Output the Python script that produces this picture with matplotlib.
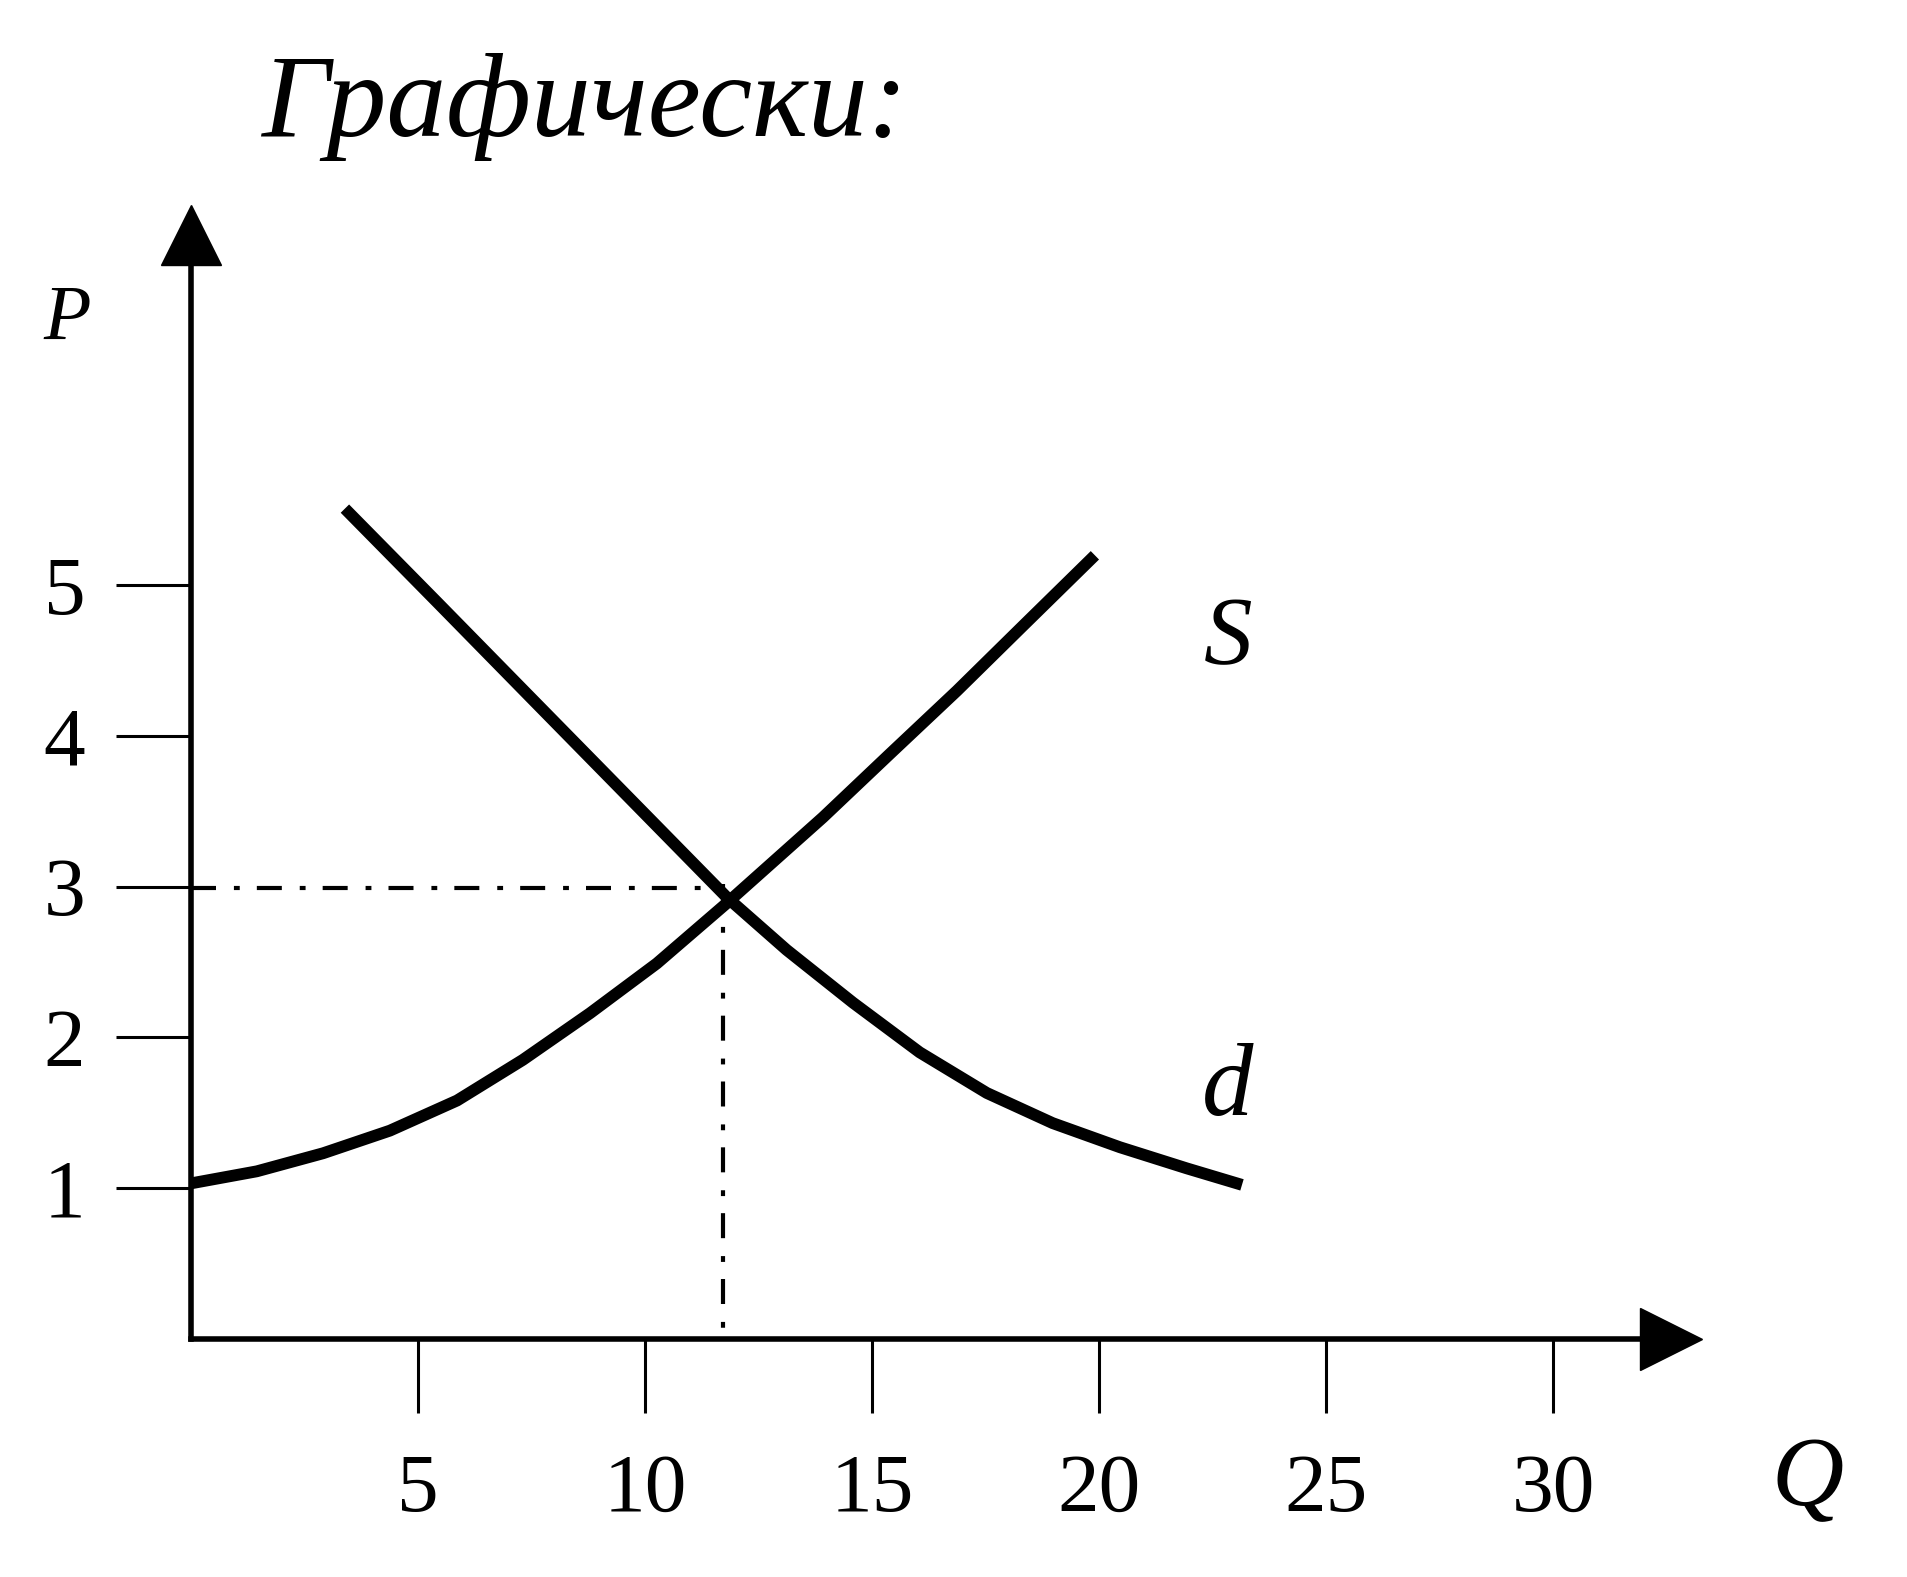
import numpy as np
import matplotlib.pyplot as plt

plt.rcParams['font.family'] = ['Liberation Serif', 'DejaVu Serif']

# supply curve S
q_s = [0, 1.45, 2.91, 4.38, 5.86, 7.31, 8.79, 10.26, 11.80, 13.92, 15.39, 16.87, 18.32, 19.91]
p_s = [1.03, 1.11, 1.23, 1.38, 1.58, 1.85, 2.16, 2.49, 2.89, 3.46, 3.88, 4.30, 4.73, 5.20]
# demand curve d
q_d = [3.39, 5.45, 7.50, 9.65, 11.80, 13.12, 14.58, 16.05, 17.53, 18.98, 20.46, 21.93, 23.15]
p_d = [5.51, 4.88, 4.25, 3.59, 2.93, 2.58, 2.23, 1.90, 1.63, 1.43, 1.27, 1.13, 1.02]
# equilibrium
q_eq = 11.72
p_eq = 2.99

x_ticks = [5, 10, 15, 20, 25, 30]
y_ticks = [1, 2, 3, 4, 5]

fig = plt.figure(figsize=(19.08, 15.77), dpi=100)
ax = fig.add_axes([191 / 1908, 1 - 1338.5 / 1577, (1671 - 191) / 1908, (1338.5 - 234.5) / 1577])
ax.set_xlim(0, 32.6)
ax.set_ylim(0, 7.33)

ax.plot(q_s, p_s, color='black', lw=8.5, solid_capstyle='butt', solid_joinstyle='round')
ax.plot(q_d, p_d, color='black', lw=8.5, solid_capstyle='butt', solid_joinstyle='round')

ax.plot([0, q_eq], [p_eq, p_eq], color='black', lw=3, dashes=(6, 4.3, 1.4, 4.1))
ax.plot([q_eq, q_eq], [p_eq + 0.03, 0], color='black', lw=3, dashes=(6, 4.3, 1.4, 4.1))

for s in ['top', 'right']:
    ax.spines[s].set_visible(False)
for s in ['left', 'bottom']:
    ax.spines[s].set_linewidth(4)

ax.plot(1, 0, '>', color='black', ms=45, transform=ax.transAxes, clip_on=False)
ax.plot(0, 1, '^', color='black', ms=43, transform=ax.transAxes, clip_on=False)

ax.set_xticks(x_ticks)
ax.set_yticks(y_ticks)
ax.tick_params(axis='x', direction='out', length=53, width=2.2, pad=30, labelsize=60)
ax.tick_params(axis='y', direction='out', length=54, width=2.2, pad=22, labelsize=60)

ax.text(-2.73, 6.76, 'P', fontsize=56, style='italic', ha='center', va='center')
ax.text(35.6, -0.95, 'Q', fontsize=72, style='italic', ha='center', va='center', clip_on=False)
ax.text(22.84, 4.63, 'S', fontsize=70, style='italic', ha='center', va='center')
ax.text(22.84, 1.65, 'd', fontsize=74, style='italic', ha='center', va='center')

fig.text(262 / 1908, 1 - 136 / 1577, 'Графически:', fontsize=86, style='italic',
         ha='left', va='baseline')

fig.savefig('out.png', dpi=100, facecolor='white')
